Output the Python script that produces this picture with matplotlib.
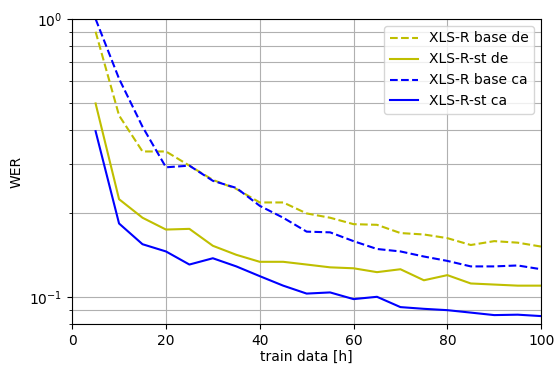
import matplotlib
matplotlib.use("Agg")
import matplotlib.pyplot as plt
from matplotlib.ticker import NullFormatter

# hours of training data
hours = [5, 10, 15, 20, 25, 30, 35, 40, 45, 50, 55, 60, 65, 70, 75, 80, 85, 90, 95, 100]

base_de = [0.90, 0.45, 0.334, 0.334, 0.297, 0.264, 0.245, 0.219, 0.219, 0.200,
           0.193, 0.183, 0.182, 0.170, 0.168, 0.163, 0.154, 0.159, 0.157, 0.152]
st_de = [0.497, 0.225, 0.193, 0.175, 0.176, 0.153, 0.142, 0.134, 0.134, 0.131,
         0.128, 0.127, 0.123, 0.126, 0.115, 0.120, 0.112, 0.111, 0.110, 0.110]
base_ca = [1.0, 0.61, 0.41, 0.293, 0.297, 0.262, 0.247, 0.213, 0.193, 0.172,
           0.171, 0.159, 0.149, 0.146, 0.140, 0.135, 0.129, 0.129, 0.130, 0.126]
st_ca = [0.395, 0.184, 0.155, 0.146, 0.131, 0.138, 0.129, 0.119, 0.110, 0.103,
         0.104, 0.0984, 0.1003, 0.0921, 0.0908, 0.0898, 0.0880, 0.0862, 0.0865, 0.0855]

fig = plt.figure(figsize=(5.55, 3.65), dpi=100)
ax = fig.add_axes([0.13, 0.112, 0.845, 0.836])

ax.plot(hours, base_de, 'y--', label='XLS-R base de')
ax.plot(hours, st_de, 'y-', label='XLS-R-st de')
ax.plot(hours, base_ca, 'b--', label='XLS-R base ca')
ax.plot(hours, st_ca, 'b-', label='XLS-R-st ca')

ax.set_yscale('log')
ax.set_xlim(0, 100)
ax.set_ylim(0.08, 1.0)
ax.yaxis.set_minor_formatter(NullFormatter())
ax.grid(True, which='both')
ax.set_xlabel('train data [h]', labelpad=1.5)
ax.set_ylabel('WER')
ax.legend(loc='upper right')

fig.savefig('out.png')
